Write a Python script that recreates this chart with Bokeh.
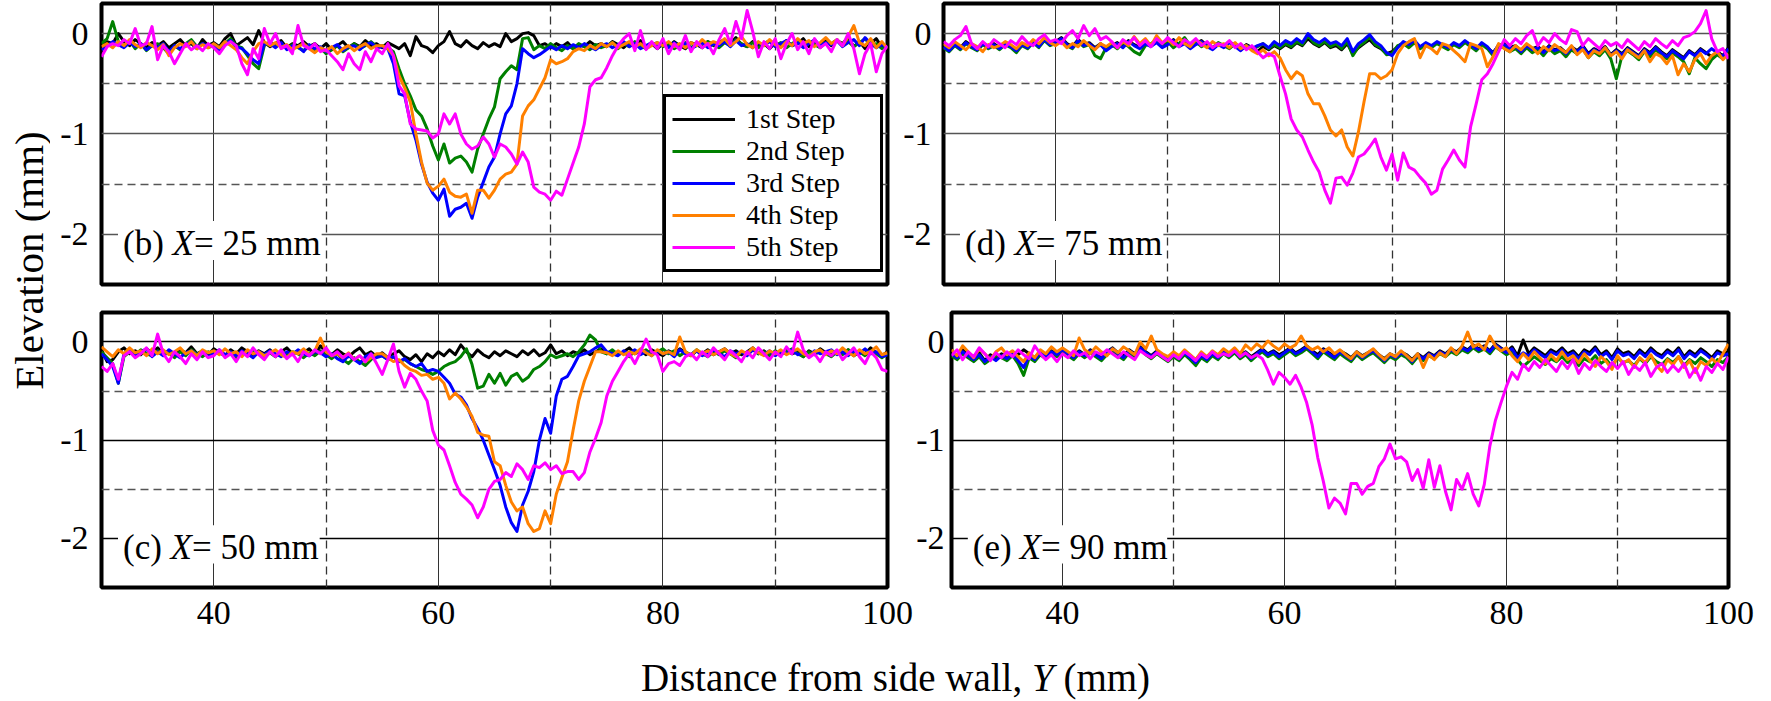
from math import pi
from bokeh.plotting import figure
from bokeh.models import Range1d, FixedTicker, Label, Legend, LegendItem, BoxAnnotation
from bokeh.layouts import row, column
from bokeh.embed import file_html
from bokeh.resources import INLINE

FONT = "Liberation Serif"

# ---------------- data ----------------
Y_MM = [round(30 + 0.5 * i, 1) for i in range(141)]   # distance from side wall (mm)
STEP_LABELS = ["1st Step", "2nd Step", "3rd Step", "4th Step", "5th Step"]
STEP_COLORS = ["#000000", "#008000", "#0000ff", "#ff8000", "#ff00ff"]
X_TICKS = [40, 60, 80, 100]
Y_TICKS = [0, -1, -2]
PANEL_TAGS = ["(b)", "(c)", "(d)", "(e)"]
PANEL_X = [25, 50, 75, 90]

# (b) X = 25 mm
b_step1 = [-0.12,-0.08,-0.10,0.00,-0.08,-0.12,-0.06,-0.10,-0.14,-0.09,
           -0.12,-0.08,-0.14,-0.10,-0.06,-0.12,-0.10,-0.15,-0.06,-0.12,
           -0.09,-0.13,-0.05,0.00,-0.12,-0.08,-0.04,-0.11,0.03,-0.09,
           -0.13,-0.10,-0.07,-0.14,-0.10,-0.12,-0.08,-0.13,-0.10,-0.15,
           -0.10,-0.16,-0.12,-0.08,-0.14,-0.10,-0.13,-0.07,-0.12,-0.10,
           -0.14,-0.09,-0.12,-0.15,-0.10,-0.22,-0.03,-0.12,-0.14,-0.19,
           -0.12,-0.08,0.02,-0.10,-0.13,-0.07,-0.12,-0.15,-0.09,-0.13,
           -0.10,-0.13,0.00,-0.08,-0.05,0.00,0.01,-0.02,-0.12,-0.10,
           -0.14,-0.10,-0.13,-0.09,-0.15,-0.11,-0.13,-0.08,-0.12,-0.10,
           -0.13,-0.08,-0.11,-0.14,-0.09,-0.12,-0.07,-0.13,-0.10,-0.15,
           -0.10,-0.13,-0.08,-0.12,-0.15,-0.09,-0.11,-0.14,-0.08,-0.12,
           -0.09,-0.06,-0.10,-0.04,-0.11,-0.13,-0.08,-0.12,-0.10,-0.15,
           -0.09,-0.13,-0.07,-0.12,-0.10,-0.05,-0.13,-0.08,-0.11,-0.06,
           -0.12,-0.07,-0.10,-0.04,-0.13,-0.08,-0.15,-0.10,-0.05,-0.14,
           -0.12]
b_step2 = [-0.10,-0.05,0.12,-0.08,-0.12,-0.07,-0.15,-0.10,-0.17,-0.12,
           -0.10,-0.14,-0.20,-0.12,-0.16,-0.10,-0.06,-0.13,-0.10,-0.14,
           -0.12,-0.15,-0.10,-0.05,-0.12,-0.14,-0.22,-0.30,-0.35,-0.12,
           -0.08,-0.13,-0.10,-0.15,-0.11,-0.14,-0.17,-0.12,-0.18,-0.14,
           -0.20,-0.16,-0.12,-0.18,-0.14,-0.10,-0.15,-0.12,-0.08,-0.13,
           -0.12,-0.14,-0.18,-0.35,-0.50,-0.62,-0.76,-0.82,-0.95,-1.12,
           -1.26,-1.10,-1.29,-1.24,-1.22,-1.28,-1.38,-1.15,-1.00,-0.85,
           -0.73,-0.45,-0.38,-0.32,-0.36,-0.05,-0.04,-0.16,-0.12,-0.15,
           -0.10,-0.14,-0.17,-0.12,-0.15,-0.10,-0.13,-0.16,-0.11,-0.14,
           -0.12,-0.09,-0.15,-0.10,-0.13,-0.08,-0.12,-0.15,-0.11,-0.09,
           -0.13,-0.10,-0.15,-0.12,-0.09,-0.14,-0.10,-0.13,-0.08,-0.11,
           -0.14,-0.09,-0.12,-0.06,-0.10,-0.13,-0.09,-0.14,-0.10,-0.07,
           -0.12,-0.09,-0.14,-0.10,-0.06,-0.12,-0.08,-0.11,-0.14,-0.09,
           -0.10,-0.06,-0.12,-0.08,-0.13,-0.09,-0.05,-0.12,-0.10,-0.15,
           -0.13]
b_step3 = [-0.16,-0.12,-0.08,-0.11,-0.14,-0.09,-0.13,-0.10,-0.16,-0.12,
           -0.14,-0.10,-0.18,-0.12,-0.15,-0.11,-0.08,-0.14,-0.10,-0.13,
           -0.11,-0.16,-0.10,-0.07,-0.13,-0.15,-0.20,-0.26,-0.30,-0.10,
           -0.10,-0.14,-0.09,-0.16,-0.12,-0.13,-0.18,-0.11,-0.15,-0.13,
           -0.18,-0.14,-0.11,-0.17,-0.13,-0.12,-0.16,-0.11,-0.09,-0.14,
           -0.13,-0.15,-0.30,-0.60,-0.62,-0.88,-1.06,-1.30,-1.48,-1.59,
           -1.66,-1.55,-1.82,-1.75,-1.73,-1.69,-1.84,-1.63,-1.48,-1.33,
           -1.23,-1.00,-0.80,-0.72,-0.50,-0.15,-0.20,-0.24,-0.21,-0.17,
           -0.13,-0.16,-0.12,-0.15,-0.11,-0.14,-0.10,-0.13,-0.16,-0.12,
           -0.10,-0.14,-0.11,-0.08,-0.13,-0.10,-0.15,-0.12,-0.09,-0.13,
           -0.11,-0.14,-0.09,-0.13,-0.10,-0.15,-0.12,-0.09,-0.14,-0.10,
           -0.12,-0.08,-0.13,-0.07,-0.12,-0.10,-0.14,-0.09,-0.12,-0.08,
           -0.13,-0.10,-0.07,-0.12,-0.09,-0.14,-0.10,-0.06,-0.12,-0.09,
           -0.11,-0.07,-0.13,-0.09,-0.06,-0.12,-0.04,-0.10,-0.14,-0.11,
           -0.14]
b_step4 = [-0.13,-0.10,-0.14,-0.08,-0.12,-0.06,-0.11,-0.14,-0.09,-0.12,
           -0.16,-0.11,-0.22,-0.14,-0.10,-0.13,-0.08,-0.15,-0.11,-0.14,
           -0.10,-0.14,-0.08,-0.12,-0.16,-0.24,-0.30,-0.18,-0.10,-0.08,
           -0.12,-0.09,-0.14,-0.11,-0.16,-0.13,-0.10,-0.15,-0.19,-0.14,
           -0.17,-0.13,-0.20,-0.15,-0.12,-0.17,-0.13,-0.10,-0.15,-0.12,
           -0.12,-0.15,-0.22,-0.42,-0.54,-0.68,-1.00,-1.28,-1.49,-1.56,
           -1.52,-1.45,-1.58,-1.62,-1.63,-1.60,-1.79,-1.56,-1.56,-1.64,
           -1.56,-1.45,-1.40,-1.38,-1.30,-0.82,-0.72,-0.66,-0.55,-0.44,
           -0.26,-0.30,-0.28,-0.25,-0.18,-0.15,-0.17,-0.12,-0.15,-0.10,
           -0.13,-0.09,-0.14,-0.11,-0.08,-0.13,-0.10,-0.15,-0.12,-0.09,
           -0.12,-0.08,-0.13,-0.10,-0.14,-0.09,-0.12,-0.06,-0.11,-0.08,
           -0.10,-0.05,-0.12,-0.08,-0.03,-0.11,-0.14,-0.08,-0.12,-0.06,
           -0.11,-0.14,-0.08,-0.12,-0.05,-0.10,-0.07,-0.13,-0.09,-0.04,
           -0.10,-0.06,-0.12,-0.03,0.08,-0.09,-0.12,-0.05,-0.14,-0.08,
           -0.15]
b_step5 = [-0.23,-0.13,-0.10,-0.12,-0.06,-0.10,0.05,-0.12,-0.10,0.07,
           -0.26,-0.12,-0.18,-0.30,-0.20,-0.10,-0.16,-0.12,-0.17,-0.10,
           -0.14,-0.20,-0.12,-0.08,-0.12,-0.30,-0.41,-0.15,-0.25,0.05,
           -0.10,0.00,-0.15,-0.12,-0.20,0.08,-0.12,-0.15,-0.10,-0.18,
           -0.16,-0.22,-0.28,-0.36,-0.20,-0.30,-0.36,-0.18,-0.28,-0.15,
           -0.20,-0.10,-0.22,-0.52,-0.60,-0.90,-0.95,-0.96,-0.97,-1.04,
           -1.00,-0.80,-0.90,-0.80,-1.00,-1.10,-1.15,-1.12,-1.03,-1.10,
           -1.23,-1.10,-1.13,-1.20,-1.30,-1.18,-1.28,-1.53,-1.58,-1.60,
           -1.66,-1.57,-1.61,-1.45,-1.29,-1.13,-0.90,-0.53,-0.46,-0.44,
           -0.34,-0.22,-0.12,-0.05,0.00,-0.17,0.03,-0.16,-0.08,-0.15,
           -0.05,-0.20,-0.10,-0.16,-0.02,-0.18,-0.08,-0.14,-0.10,-0.20,
           -0.06,0.05,-0.10,0.12,-0.05,0.23,0.02,-0.23,-0.08,-0.15,
           -0.05,-0.25,-0.10,0.00,-0.16,-0.08,-0.20,-0.05,-0.14,-0.10,
           -0.18,-0.06,-0.12,0.00,-0.15,-0.40,-0.20,-0.10,-0.38,-0.20,
           -0.12]

# (c) X = 50 mm
c_step1 = [-0.08,-0.20,-0.18,-0.10,-0.06,-0.12,-0.09,-0.13,-0.07,-0.11,
           -0.06,-0.12,-0.09,-0.14,-0.08,-0.11,-0.05,-0.12,-0.09,-0.13,
           -0.07,-0.11,-0.14,-0.08,-0.12,-0.06,-0.10,-0.13,-0.09,-0.12,
           -0.08,-0.14,-0.10,-0.06,-0.12,-0.09,-0.11,-0.07,-0.13,-0.04,
           -0.10,-0.13,-0.08,-0.12,-0.15,-0.10,-0.06,-0.13,-0.10,-0.15,
           -0.11,-0.16,-0.12,-0.09,-0.15,-0.18,-0.13,-0.20,-0.12,-0.16,
           -0.10,-0.14,-0.08,-0.13,-0.03,-0.10,-0.15,-0.08,-0.13,-0.16,
           -0.10,-0.14,-0.09,-0.12,-0.15,-0.09,-0.13,-0.08,-0.14,-0.11,
           -0.03,-0.12,-0.09,-0.14,-0.10,-0.12,-0.08,-0.13,-0.10,-0.07,
           -0.12,-0.09,-0.13,-0.10,-0.06,-0.12,-0.09,-0.13,-0.08,-0.11,
           -0.14,-0.09,-0.12,-0.07,-0.11,-0.14,-0.09,-0.12,-0.08,-0.13,
           -0.10,-0.07,-0.12,-0.09,-0.13,-0.10,-0.06,-0.12,-0.09,-0.14,
           -0.10,-0.13,-0.08,-0.12,-0.10,-0.15,-0.09,-0.12,-0.07,-0.11,
           -0.13,-0.09,-0.12,-0.08,-0.14,-0.10,-0.12,-0.06,-0.11,-0.14,
           -0.10]
c_step2 = [-0.10,-0.16,-0.22,-0.42,-0.15,-0.10,-0.13,-0.08,-0.12,-0.14,
           -0.09,-0.13,-0.11,-0.16,-0.10,-0.14,-0.08,-0.12,-0.15,-0.10,
           -0.13,-0.09,-0.14,-0.11,-0.16,-0.10,-0.13,-0.08,-0.12,-0.15,
           -0.11,-0.15,-0.09,-0.13,-0.10,-0.12,-0.16,-0.11,-0.14,-0.09,
           -0.13,-0.17,-0.12,-0.18,-0.22,-0.16,-0.20,-0.24,-0.18,-0.14,
           -0.14,-0.18,-0.15,-0.20,-0.18,-0.22,-0.25,-0.28,-0.30,-0.33,
           -0.30,-0.25,-0.22,-0.20,-0.15,-0.07,-0.23,-0.47,-0.45,-0.33,
           -0.42,-0.32,-0.44,-0.35,-0.32,-0.40,-0.36,-0.28,-0.25,-0.20,
           -0.13,-0.16,-0.14,-0.12,-0.15,-0.10,-0.03,0.07,0.02,-0.10,
           -0.12,-0.08,-0.13,-0.10,-0.15,-0.09,-0.12,-0.08,-0.13,-0.10,
           -0.07,-0.12,-0.09,-0.14,-0.10,-0.13,-0.08,-0.12,-0.15,-0.10,
           -0.13,-0.09,-0.12,-0.16,-0.10,-0.13,-0.08,-0.12,-0.10,-0.14,
           -0.09,-0.13,-0.10,-0.07,-0.12,-0.15,-0.10,-0.13,-0.09,-0.12,
           -0.15,-0.10,-0.13,-0.08,-0.12,-0.10,-0.14,-0.09,-0.12,-0.16,
           -0.12]
c_step3 = [-0.12,-0.18,-0.25,-0.42,-0.12,-0.09,-0.14,-0.10,-0.07,-0.15,
           -0.10,-0.14,-0.08,-0.12,-0.16,-0.11,-0.09,-0.13,-0.10,-0.15,
           -0.12,-0.08,-0.13,-0.10,-0.14,-0.09,-0.12,-0.16,-0.10,-0.13,
           -0.09,-0.12,-0.15,-0.10,-0.13,-0.08,-0.12,-0.14,-0.10,-0.11,
           -0.15,-0.12,-0.17,-0.20,-0.14,-0.18,-0.22,-0.15,-0.12,-0.16,
           -0.14,-0.18,-0.15,-0.20,-0.17,-0.22,-0.25,-0.22,-0.30,-0.28,
           -0.30,-0.36,-0.42,-0.53,-0.56,-0.64,-0.78,-0.88,-1.00,-1.15,
           -1.30,-1.46,-1.68,-1.84,-1.93,-1.66,-1.52,-1.32,-1.00,-0.78,
           -0.93,-0.55,-0.38,-0.35,-0.25,-0.14,-0.12,-0.10,-0.06,-0.03,
           -0.10,-0.12,-0.14,-0.09,-0.12,-0.08,-0.13,-0.10,-0.14,-0.09,
           -0.12,-0.10,-0.15,-0.08,-0.12,-0.13,-0.09,-0.14,-0.11,-0.08,
           -0.12,-0.15,-0.09,-0.12,-0.10,-0.14,-0.08,-0.11,-0.13,-0.09,
           -0.14,-0.10,-0.12,-0.08,-0.13,-0.11,-0.15,-0.09,-0.12,-0.10,
           -0.08,-0.13,-0.10,-0.14,-0.09,-0.12,-0.07,-0.12,-0.10,-0.15,
           -0.13]
c_step4 = [-0.05,-0.10,-0.15,-0.08,-0.12,-0.06,-0.11,-0.09,-0.14,-0.07,
           -0.12,-0.08,-0.13,-0.10,-0.06,-0.12,-0.09,-0.14,-0.08,-0.11,
           -0.09,-0.13,-0.07,-0.12,-0.10,-0.15,-0.08,-0.12,-0.10,-0.14,
           -0.11,-0.08,-0.13,-0.16,-0.10,-0.12,-0.07,-0.13,-0.09,0.04,
           -0.10,-0.14,-0.12,-0.16,-0.11,-0.18,-0.14,-0.20,-0.16,-0.12,
           -0.12,-0.16,-0.20,-0.18,-0.24,-0.28,-0.30,-0.34,-0.33,-0.38,
           -0.36,-0.42,-0.58,-0.52,-0.58,-0.66,-0.76,-0.92,-0.95,-0.96,
           -1.22,-1.26,-1.46,-1.63,-1.72,-1.68,-1.85,-1.93,-1.90,-1.72,
           -1.85,-1.55,-1.38,-1.22,-0.90,-0.60,-0.40,-0.25,-0.10,-0.10,
           -0.11,-0.14,-0.09,-0.13,-0.10,-0.12,-0.07,-0.11,-0.14,-0.08,
           -0.12,-0.10,-0.13,0.05,-0.10,-0.14,-0.08,-0.12,-0.09,-0.13,
           -0.10,-0.07,-0.12,-0.15,-0.09,-0.12,-0.06,-0.11,-0.14,-0.09,
           -0.12,-0.08,-0.13,-0.10,-0.07,-0.12,-0.15,-0.10,-0.08,-0.13,
           -0.09,-0.12,-0.06,-0.11,-0.14,-0.08,-0.12,-0.10,-0.05,-0.13,
           -0.11]
c_step5 = [-0.25,-0.30,-0.22,-0.38,-0.14,-0.10,-0.16,-0.12,-0.06,-0.14,
           0.08,-0.12,-0.20,-0.10,-0.15,-0.22,-0.12,-0.18,-0.10,-0.16,
           -0.14,-0.08,-0.16,-0.12,-0.20,-0.10,-0.15,-0.06,-0.13,-0.18,
           -0.10,-0.15,-0.08,-0.17,-0.12,-0.20,-0.10,-0.14,-0.08,-0.12,
           -0.06,-0.14,-0.10,-0.16,-0.12,-0.18,-0.14,-0.20,-0.12,-0.22,
           -0.33,-0.18,-0.02,-0.30,-0.46,-0.32,-0.38,-0.50,-0.60,-0.90,
           -1.05,-1.10,-1.26,-1.43,-1.55,-1.60,-1.66,-1.79,-1.68,-1.50,
           -1.42,-1.40,-1.33,-1.37,-1.24,-1.30,-1.40,-1.26,-1.28,-1.23,
           -1.30,-1.26,-1.34,-1.32,-1.32,-1.40,-1.33,-1.12,-0.98,-0.82,
           -0.55,-0.40,-0.30,-0.20,-0.12,-0.22,-0.10,0.03,-0.10,-0.13,
           -0.30,-0.22,-0.20,-0.24,-0.15,-0.12,-0.18,-0.10,-0.15,-0.06,
           -0.12,-0.18,-0.09,-0.14,-0.20,-0.10,-0.16,-0.06,-0.12,-0.18,
           -0.10,-0.15,-0.05,-0.12,0.10,-0.08,-0.16,-0.12,-0.20,-0.10,
           -0.14,-0.08,-0.18,-0.12,-0.06,-0.15,-0.22,-0.10,-0.16,-0.28,
           -0.30]

# (d) X = 75 mm
d_step1 = [-0.12,-0.16,-0.10,-0.14,-0.08,-0.12,-0.15,-0.09,-0.13,-0.10,
           -0.14,-0.09,-0.12,-0.16,-0.10,-0.13,-0.07,-0.12,-0.05,-0.10,
           -0.08,-0.04,-0.10,-0.13,-0.06,-0.11,-0.09,-0.14,-0.10,-0.16,
           -0.12,-0.09,-0.13,-0.07,-0.11,-0.14,-0.09,-0.12,-0.08,-0.13,
           -0.10,-0.06,-0.12,-0.09,-0.14,-0.10,-0.07,-0.12,-0.15,-0.10,
           -0.13,-0.08,-0.12,-0.16,-0.11,-0.14,-0.18,-0.13,-0.16,-0.12,
           -0.15,-0.11,-0.14,-0.09,-0.12,-0.05,-0.10,-0.13,-0.09,-0.14,
           -0.12,-0.16,-0.10,-0.20,-0.14,-0.10,-0.06,-0.12,-0.15,-0.20,
           -0.18,-0.13,-0.09,-0.12,-0.08,-0.14,-0.10,-0.13,-0.09,-0.12,
           -0.15,-0.10,-0.13,-0.08,-0.12,-0.16,-0.10,-0.14,-0.19,-0.12,
           -0.10,-0.14,-0.12,-0.17,-0.11,-0.15,-0.13,-0.18,-0.12,-0.16,
           -0.14,-0.19,-0.13,-0.17,-0.12,-0.20,-0.15,-0.18,-0.13,-0.21,
           -0.16,-0.20,-0.14,-0.18,-0.22,-0.15,-0.19,-0.13,-0.18,-0.22,
           -0.16,-0.20,-0.24,-0.17,-0.21,-0.15,-0.19,-0.23,-0.18,-0.22,
           -0.14]
d_step2 = [-0.14,-0.18,-0.12,-0.16,-0.10,-0.14,-0.17,-0.11,-0.15,-0.12,
           -0.16,-0.11,-0.14,-0.19,-0.12,-0.15,-0.09,-0.14,-0.07,-0.12,
           -0.10,-0.06,-0.12,-0.15,-0.08,-0.13,-0.11,-0.22,-0.25,-0.14,
           -0.11,-0.15,-0.09,-0.13,-0.18,-0.21,-0.12,-0.10,-0.06,-0.12,
           -0.08,-0.14,-0.10,-0.04,-0.12,-0.08,-0.13,-0.10,-0.14,-0.09,
           -0.12,-0.15,-0.10,-0.14,-0.12,-0.16,-0.13,-0.10,-0.15,-0.11,
           -0.14,-0.10,-0.13,-0.08,-0.11,-0.02,-0.09,-0.12,-0.08,-0.13,
           -0.10,-0.15,-0.08,-0.22,-0.13,-0.09,-0.03,-0.11,-0.14,-0.21,
           -0.20,-0.12,-0.10,-0.14,-0.09,-0.15,-0.11,-0.14,-0.10,-0.13,
           -0.16,-0.11,-0.14,-0.09,-0.13,-0.17,-0.11,-0.15,-0.22,-0.13,
           -0.14,-0.18,-0.15,-0.20,-0.14,-0.19,-0.16,-0.22,-0.15,-0.20,
           -0.17,-0.23,-0.16,-0.20,-0.15,-0.24,-0.18,-0.22,-0.16,-0.25,
           -0.45,-0.22,-0.17,-0.21,-0.26,-0.18,-0.23,-0.16,-0.21,-0.25,
           -0.19,-0.23,-0.28,-0.40,-0.24,-0.30,-0.35,-0.26,-0.21,-0.25,
           -0.16]
d_step3 = [-0.13,-0.17,-0.11,-0.15,-0.09,-0.13,-0.16,-0.10,-0.14,-0.11,
           -0.15,-0.10,-0.13,-0.17,-0.11,-0.14,-0.08,-0.13,-0.06,-0.11,
           -0.09,-0.05,-0.11,-0.14,-0.07,-0.12,-0.10,-0.15,-0.11,-0.17,
           -0.13,-0.10,-0.14,-0.08,-0.12,-0.15,-0.10,-0.13,-0.09,-0.14,
           -0.11,-0.07,-0.13,-0.10,-0.15,-0.11,-0.08,-0.13,-0.16,-0.11,
           -0.14,-0.09,-0.13,-0.17,-0.12,-0.15,-0.12,-0.10,-0.14,-0.08,
           -0.12,-0.07,-0.10,-0.05,-0.09,0.00,-0.06,-0.09,-0.05,-0.10,
           -0.08,-0.12,-0.05,-0.18,-0.10,-0.06,-0.01,-0.08,-0.12,-0.19,
           -0.22,-0.14,-0.08,-0.11,-0.07,-0.13,-0.09,-0.12,-0.08,-0.11,
           -0.14,-0.09,-0.12,-0.07,-0.11,-0.15,-0.09,-0.13,-0.20,-0.11,
           -0.11,-0.15,-0.13,-0.18,-0.12,-0.16,-0.14,-0.19,-0.13,-0.17,
           -0.15,-0.20,-0.14,-0.18,-0.13,-0.21,-0.16,-0.19,-0.14,-0.22,
           -0.17,-0.21,-0.15,-0.19,-0.23,-0.16,-0.20,-0.14,-0.19,-0.23,
           -0.17,-0.21,-0.25,-0.18,-0.22,-0.16,-0.20,-0.15,-0.19,-0.23,
           -0.15]
d_step4 = [-0.10,-0.14,-0.08,-0.12,-0.16,-0.10,-0.13,-0.18,-0.11,-0.14,
           -0.12,-0.08,-0.11,-0.15,-0.09,-0.12,-0.06,-0.10,-0.04,-0.09,
           -0.12,-0.08,-0.14,-0.10,-0.13,-0.07,-0.12,-0.16,-0.10,-0.13,
           -0.09,-0.14,-0.08,-0.12,-0.03,-0.10,-0.05,-0.12,-0.02,-0.09,
           -0.06,-0.11,-0.04,-0.10,-0.13,-0.06,-0.10,-0.14,-0.08,-0.12,
           -0.10,-0.14,-0.09,-0.15,-0.12,-0.17,-0.20,-0.16,-0.22,-0.18,
           -0.24,-0.36,-0.45,-0.38,-0.42,-0.60,-0.70,-0.70,-0.82,-0.96,
           -1.02,-0.96,-1.13,-1.22,-0.98,-0.68,-0.40,-0.40,-0.45,-0.42,
           -0.36,-0.20,-0.12,-0.08,-0.05,-0.24,-0.12,-0.15,-0.20,-0.10,
           -0.12,-0.17,-0.22,-0.28,-0.10,-0.12,-0.15,-0.33,-0.23,-0.10,
           -0.15,-0.18,-0.12,-0.16,-0.10,-0.14,-0.20,-0.13,-0.17,-0.11,
           -0.15,-0.19,-0.12,-0.21,-0.16,-0.24,-0.17,-0.20,-0.14,-0.22,
           -0.18,-0.25,-0.16,-0.20,-0.24,-0.17,-0.28,-0.20,-0.23,-0.30,
           -0.22,-0.41,-0.30,-0.38,-0.26,-0.20,-0.30,-0.22,-0.18,-0.26,
           -0.20]
d_step5 = [-0.08,-0.12,-0.06,-0.02,0.07,-0.10,-0.15,-0.08,-0.13,-0.06,
           -0.10,-0.14,-0.07,-0.11,-0.03,-0.09,-0.12,-0.05,-0.01,-0.08,
           -0.06,-0.10,-0.02,0.03,-0.05,0.08,-0.02,0.05,-0.06,-0.03,
           -0.08,-0.14,-0.06,-0.10,-0.04,-0.12,-0.07,-0.13,-0.05,-0.10,
           -0.04,-0.09,-0.13,-0.06,-0.10,-0.05,-0.12,-0.08,-0.14,-0.10,
           -0.12,-0.07,-0.14,-0.10,-0.16,-0.12,-0.18,-0.24,-0.20,-0.23,
           -0.42,-0.60,-0.85,-0.96,-1.03,-1.16,-1.28,-1.38,-1.56,-1.69,
           -1.44,-1.43,-1.51,-1.39,-1.23,-1.20,-1.13,-1.05,-1.23,-1.36,
           -1.20,-1.46,-1.19,-1.33,-1.36,-1.43,-1.49,-1.60,-1.56,-1.35,
           -1.26,-1.16,-1.26,-1.33,-0.93,-0.70,-0.46,-0.40,-0.30,-0.18,
           -0.06,-0.12,-0.05,-0.10,-0.02,0.03,-0.12,-0.04,-0.09,0.00,
           -0.06,-0.10,0.04,0.02,-0.12,-0.05,-0.10,-0.15,-0.07,-0.12,
           -0.09,-0.14,-0.06,-0.11,-0.16,-0.08,-0.13,-0.05,-0.10,-0.14,
           -0.07,-0.12,-0.04,-0.02,0.02,0.10,0.23,-0.05,-0.18,-0.15,
           -0.25]

# (e) X = 90 mm
e_step1 = [-0.10,-0.14,-0.08,-0.12,-0.16,-0.11,-0.19,-0.13,-0.17,-0.12,
           -0.15,-0.10,-0.13,-0.08,-0.12,-0.16,-0.10,-0.14,-0.09,-0.12,
           -0.07,-0.11,-0.14,-0.09,-0.13,-0.08,-0.12,-0.15,-0.10,-0.06,
           -0.11,-0.14,-0.08,-0.12,-0.05,-0.10,-0.14,-0.09,-0.13,-0.16,
           -0.12,-0.15,-0.10,-0.14,-0.18,-0.12,-0.16,-0.11,-0.14,-0.09,
           -0.12,-0.08,-0.13,-0.10,-0.15,-0.11,-0.07,-0.12,-0.09,-0.13,
           -0.10,-0.06,-0.11,-0.08,-0.04,-0.09,-0.13,-0.07,-0.11,-0.14,
           -0.09,-0.12,-0.16,-0.10,-0.14,-0.11,-0.08,-0.13,-0.17,-0.12,
           -0.15,-0.10,-0.13,-0.18,-0.12,-0.16,-0.11,-0.14,-0.09,-0.12,
           -0.07,-0.10,-0.05,-0.08,-0.03,-0.07,-0.04,-0.09,-0.02,-0.06,
           -0.10,-0.05,-0.14,0.02,-0.12,-0.06,-0.10,-0.14,-0.08,-0.11,
           -0.06,-0.12,-0.09,-0.15,-0.08,-0.11,-0.05,-0.13,-0.09,-0.16,
           -0.07,-0.12,-0.10,-0.15,-0.08,-0.13,-0.06,-0.11,-0.14,-0.08,
           -0.12,-0.06,-0.15,-0.09,-0.13,-0.07,-0.11,-0.16,-0.09,-0.12,
           -0.10]
e_step2 = [-0.14,-0.18,-0.12,-0.16,-0.20,-0.15,-0.22,-0.18,-0.14,-0.16,
           -0.19,-0.14,-0.22,-0.34,-0.16,-0.20,-0.13,-0.17,-0.12,-0.15,
           -0.10,-0.14,-0.18,-0.12,-0.16,-0.11,-0.15,-0.19,-0.13,-0.09,
           -0.14,-0.18,-0.11,-0.15,-0.08,-0.13,-0.17,-0.12,-0.16,-0.20,
           -0.15,-0.19,-0.13,-0.18,-0.24,-0.16,-0.20,-0.14,-0.18,-0.12,
           -0.16,-0.11,-0.17,-0.13,-0.19,-0.14,-0.10,-0.15,-0.12,-0.17,
           -0.13,-0.09,-0.14,-0.11,-0.07,-0.12,-0.17,-0.10,-0.14,-0.18,
           -0.12,-0.16,-0.20,-0.13,-0.18,-0.14,-0.11,-0.16,-0.21,-0.15,
           -0.18,-0.13,-0.16,-0.22,-0.15,-0.19,-0.14,-0.17,-0.12,-0.15,
           -0.10,-0.13,-0.08,-0.11,-0.06,-0.10,-0.07,-0.12,-0.05,-0.09,
           -0.13,-0.10,-0.18,-0.25,-0.20,-0.15,-0.19,-0.23,-0.17,-0.20,
           -0.15,-0.21,-0.18,-0.24,-0.17,-0.20,-0.14,-0.22,-0.18,-0.25,
           -0.16,-0.21,-0.19,-0.24,-0.17,-0.22,-0.15,-0.20,-0.23,-0.17,
           -0.21,-0.15,-0.24,-0.18,-0.22,-0.16,-0.20,-0.25,-0.18,-0.21,
           -0.15]
e_step3 = [-0.12,-0.16,-0.10,-0.14,-0.18,-0.13,-0.20,-0.15,-0.19,-0.14,
           -0.17,-0.12,-0.19,-0.26,-0.14,-0.18,-0.11,-0.15,-0.10,-0.13,
           -0.08,-0.12,-0.16,-0.10,-0.14,-0.09,-0.13,-0.17,-0.11,-0.07,
           -0.12,-0.16,-0.09,-0.13,-0.06,-0.11,-0.15,-0.10,-0.14,-0.18,
           -0.13,-0.17,-0.11,-0.16,-0.21,-0.14,-0.18,-0.12,-0.16,-0.10,
           -0.14,-0.09,-0.15,-0.11,-0.17,-0.12,-0.08,-0.13,-0.10,-0.15,
           -0.11,-0.07,-0.12,-0.09,-0.05,-0.10,-0.15,-0.08,-0.12,-0.16,
           -0.10,-0.14,-0.18,-0.11,-0.16,-0.12,-0.09,-0.14,-0.19,-0.13,
           -0.16,-0.11,-0.14,-0.20,-0.13,-0.17,-0.12,-0.15,-0.10,-0.13,
           -0.08,-0.11,-0.06,-0.09,-0.04,-0.08,-0.05,-0.10,-0.03,-0.07,
           -0.11,-0.07,-0.16,-0.11,-0.14,-0.08,-0.12,-0.16,-0.10,-0.13,
           -0.08,-0.14,-0.11,-0.17,-0.10,-0.13,-0.07,-0.15,-0.11,-0.18,
           -0.09,-0.14,-0.12,-0.17,-0.10,-0.15,-0.08,-0.13,-0.16,-0.10,
           -0.14,-0.08,-0.17,-0.11,-0.15,-0.09,-0.13,-0.18,-0.11,-0.14,
           -0.12]
e_step4 = [-0.08,-0.14,-0.04,-0.10,-0.16,-0.07,-0.12,-0.18,-0.10,-0.06,
           -0.13,-0.09,-0.15,-0.20,-0.11,-0.16,-0.08,-0.12,-0.05,-0.10,
           -0.06,-0.10,-0.14,0.04,-0.08,-0.12,-0.05,-0.10,-0.14,-0.07,
           -0.11,-0.05,-0.09,-0.13,0.00,-0.07,0.06,-0.08,-0.12,-0.15,
           -0.10,-0.14,-0.08,-0.13,-0.18,-0.10,-0.15,-0.09,-0.13,-0.07,
           -0.11,-0.06,-0.12,-0.03,-0.08,-0.02,-0.06,0.01,-0.04,-0.08,
           -0.02,-0.06,-0.03,0.06,-0.04,-0.08,-0.05,-0.10,-0.06,-0.12,
           -0.08,-0.13,-0.17,-0.10,-0.15,-0.11,-0.07,-0.13,-0.18,-0.12,
           -0.15,-0.09,-0.14,-0.19,-0.12,-0.26,-0.13,-0.18,-0.11,-0.15,
           -0.06,-0.12,-0.04,0.10,-0.05,-0.02,-0.08,0.06,-0.04,-0.09,
           -0.06,-0.14,-0.20,-0.12,-0.18,-0.10,-0.16,-0.22,-0.13,-0.19,
           -0.10,-0.18,-0.14,-0.21,-0.12,-0.19,-0.25,-0.15,-0.20,-0.28,
           -0.14,-0.22,-0.18,-0.26,-0.16,-0.21,-0.13,-0.24,-0.30,-0.18,
           -0.23,-0.15,-0.26,-0.19,-0.31,-0.20,-0.24,-0.17,-0.22,-0.12,
           -0.02]
e_step5 = [-0.14,-0.08,-0.18,-0.10,-0.15,-0.06,-0.12,-0.19,-0.11,-0.16,
           -0.10,-0.15,-0.08,-0.13,-0.17,-0.04,-0.12,-0.18,-0.13,-0.20,
           -0.12,-0.16,-0.09,-0.14,-0.11,-0.17,-0.10,-0.13,-0.08,-0.12,
           -0.16,-0.10,-0.14,-0.18,-0.09,-0.13,-0.16,-0.11,-0.15,-0.19,
           -0.13,-0.17,-0.10,-0.14,-0.19,-0.12,-0.16,-0.10,-0.15,-0.12,
           -0.14,-0.09,-0.15,-0.11,-0.16,-0.13,-0.17,-0.29,-0.43,-0.31,
           -0.36,-0.43,-0.34,-0.46,-0.62,-0.85,-1.18,-1.42,-1.69,-1.59,
           -1.64,-1.75,-1.44,-1.44,-1.55,-1.47,-1.44,-1.27,-1.19,-1.04,
           -1.19,-1.17,-1.22,-1.41,-1.30,-1.49,-1.20,-1.48,-1.26,-1.52,
           -1.71,-1.40,-1.50,-1.34,-1.55,-1.67,-1.45,-1.06,-0.80,-0.62,
           -0.45,-0.31,-0.38,-0.23,-0.29,-0.20,-0.26,-0.18,-0.24,-0.30,
           -0.20,-0.27,-0.18,-0.32,-0.22,-0.28,-0.19,-0.25,-0.30,-0.21,
           -0.27,-0.20,-0.33,-0.24,-0.29,-0.21,-0.35,-0.26,-0.22,-0.31,
           -0.24,-0.30,-0.22,-0.36,-0.27,-0.39,-0.25,-0.31,-0.22,-0.28,
           -0.15]

PANEL_SERIES = [
    [b_step1, b_step2, b_step3, b_step4, b_step5],
    [c_step1, c_step2, c_step3, c_step4, c_step5],
    [d_step1, d_step2, d_step3, d_step4, d_step5],
    [e_step1, e_step2, e_step3, e_step4, e_step5],
]

# ---------------- helpers ----------------
CHAR_W = {"(": 333, ")": 333, " ": 250, "b": 500, "c": 444, "d": 500, "e": 444,
          "X": 611, "=": 564, "m": 778, "D": 722, "i": 278, "s": 389, "t": 278,
          "a": 444, "n": 500, "f": 333, "r": 333, "o": 500, "w": 722, "l": 278,
          ",": 250, "Y": 556}


def text_px(s, size):
    return sum(CHAR_W.get(ch, 500) for ch in s) * size / 1000.0


PXU = 786 / 70.0     # px per mm (horizontal)
PYU = 281 / 2.8      # px per mm (vertical)
BASE_FIX = 0.22      # bokeh places the alphabetic baseline ~0.22 em below the anchor


def add_tag(p, tag, xval):
    size = 35
    x_px, base_px = 21.5, 33.5
    w_tag = text_px(tag + " ", size)
    w_x = text_px("X", size)
    rest = "= %d mm" % xval
    total = w_tag + w_x + text_px(rest, size)
    p.add_layout(BoxAnnotation(left=30 + (x_px - 5) / PXU, right=30 + (x_px + total + 1) / PXU,
                               bottom=-2.5 + (base_px - 9) / PYU, top=-2.5 + (base_px + 30) / PYU,
                               fill_color="white", fill_alpha=1.0, line_color=None))
    ya = -2.5 + (base_px + BASE_FIX * size) / PYU
    for s, style, off in [(tag, "normal", 0.0), ("X", "italic", w_tag), (rest, "normal", w_tag + w_x)]:
        p.add_layout(Label(x=30 + (x_px + off) / PXU, y=ya, text=s,
                           text_font=FONT, text_font_style=style, text_font_size="%dpx" % size,
                           text_color="black", text_align="left", text_baseline="alphabetic"))


def make_panel(idx, width, height, mbl, mbr, mbt, mbb, show_x, hcolor, ystandoff, legend_loc=None):
    p = figure(width=width, height=height, x_range=Range1d(30, 100), y_range=Range1d(-2.5, 0.3),
               output_backend="svg", toolbar_location=None, title=None,
               min_border_left=mbl, min_border_right=mbr, min_border_top=mbt, min_border_bottom=mbb)
    p.background_fill_color = "white"
    p.border_fill_color = "white"
    p.outline_line_color = "black"
    p.outline_line_width = 4

    p.xgrid.ticker = FixedTicker(ticks=[40, 60, 80], minor_ticks=[50, 70, 90])
    p.xgrid.grid_line_color = "#333333"
    p.xgrid.grid_line_width = 1
    p.xgrid.minor_grid_line_color = "#333333"
    p.xgrid.minor_grid_line_width = 1.3
    p.xgrid.minor_grid_line_dash = "8 5"
    p.ygrid.ticker = FixedTicker(ticks=[0, -1, -2], minor_ticks=[-0.5, -1.5])
    p.ygrid.grid_line_color = hcolor
    p.ygrid.grid_line_width = 1.6
    p.ygrid.minor_grid_line_color = "#555555"
    p.ygrid.minor_grid_line_width = 1.3
    p.ygrid.minor_grid_line_dash = "8 5"

    p.yaxis.ticker = FixedTicker(ticks=Y_TICKS)
    p.yaxis.major_label_overrides = {0: "0", -1: "-1", -2: "-2"}
    p.yaxis.major_label_text_font = FONT
    p.yaxis.major_label_text_font_size = "34px"
    p.yaxis.major_label_text_color = "black"
    p.yaxis.axis_line_color = None
    p.yaxis.major_tick_line_color = None
    p.yaxis.minor_tick_line_color = None
    p.yaxis.major_label_standoff = ystandoff
    if show_x:
        p.xaxis.ticker = FixedTicker(ticks=X_TICKS)
        p.xaxis.major_label_text_font = FONT
        p.xaxis.major_label_text_font_size = "34px"
        p.xaxis.major_label_text_color = "black"
        p.xaxis.axis_line_color = None
        p.xaxis.major_tick_line_color = None
        p.xaxis.minor_tick_line_color = None
        p.xaxis.major_label_standoff = 8
    else:
        p.xaxis.visible = False

    renderers = []
    for vals, color in zip(PANEL_SERIES[idx], STEP_COLORS):
        renderers.append(p.line(Y_MM, vals, line_color=color, line_width=3, line_join="round"))

    add_tag(p, PANEL_TAGS[idx], PANEL_X[idx])

    if legend_loc is not None:
        items = [LegendItem(label=lab, renderers=[r]) for lab, r in zip(STEP_LABELS, renderers)]
        lg = Legend(items=items, location=legend_loc, orientation="vertical",
                    label_text_font=FONT, label_text_font_size="28px", label_text_color="black",
                    glyph_width=63, glyph_height=30, label_height=30, label_width=128,
                    label_standoff=11, spacing=0, padding=6, margin=0,
                    border_line_color="black", border_line_width=3, border_line_alpha=1.0,
                    background_fill_color="white", background_fill_alpha=1.0)
        p.add_layout(lg)
    return p


# frames (page px): left panels x 101-887, right panels x 943-1728
# rows: top frames y 3-284, bottom-left 306-587, bottom-right 312-593
tl = make_panel(0, 850, 295, 51, 13, 3, 11, False, "#555555", 7, legend_loc=(562, 12))
tr = make_panel(2, 866, 295, 43, 38, 3, 11, False, "#555555", 6)
bl = make_panel(1, 863, 345, 51, 26, 11, 53, True, "#000000", 7)
br = make_panel(3, 853, 345, 30, 38, 17, 47, True, "#000000", 1)

TOTAL_H = 700
# y-axis title
yl = figure(width=50, height=TOTAL_H, x_range=Range1d(0, 50), y_range=Range1d(0, TOTAL_H),
            x_axis_type=None, y_axis_type=None, min_border=0, toolbar_location=None,
            output_backend="svg", title=None, outline_line_color=None)
yl.add_layout(Label(x=28, y=TOTAL_H - 260, text="Elevation (mm)", angle=pi / 2, text_font=FONT,
                    text_font_size="41px", text_color="black", text_align="center",
                    text_baseline="middle"))

# x-axis title
XL_H = TOTAL_H - 295 - 345
xl = figure(width=1716, height=XL_H, x_range=Range1d(0, 1716), y_range=Range1d(0, XL_H),
            x_axis_type=None, y_axis_type=None, min_border=0, toolbar_location=None,
            output_backend="svg", title=None, outline_line_color=None)
xsize = 39
w1 = text_px("Distance from side wall, ", xsize)
w2 = text_px("Y", xsize)
w3 = text_px("(mm)", xsize)
sp = text_px(" ", xsize)
x0 = 845 - (w1 + w2 + sp + w3) / 2.0
ybase = (TOTAL_H - 686) + BASE_FIX * xsize
for s, style, off in [("Distance from side wall,", "normal", 0.0), ("Y", "italic", w1),
                      ("(mm)", "normal", w1 + w2 + sp)]:
    xl.add_layout(Label(x=x0 + off, y=ybase, text=s, text_font=FONT, text_font_style=style,
                        text_font_size="%dpx" % xsize, text_color="black",
                        text_align="left", text_baseline="alphabetic"))

layout = row(yl, column(row(tl, tr), row(bl, br), xl))

open("out.html", "w").write(file_html(layout, INLINE))
